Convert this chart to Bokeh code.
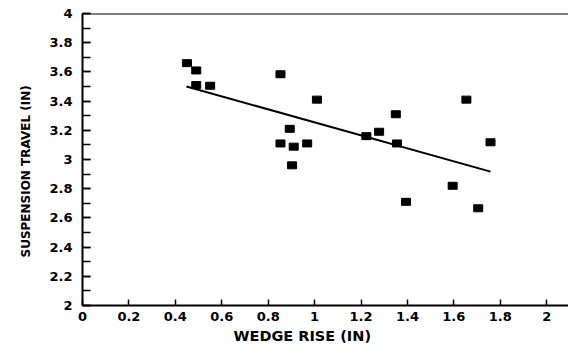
from bokeh.plotting import figure
from bokeh.models import Range1d, SingleIntervalTicker, Span, ColumnDataSource, Title
from bokeh.embed import file_html
from bokeh.resources import INLINE

# Data
wedge_rise = [0.45, 0.49, 0.49, 0.55, 0.853, 1.01, 0.893, 0.853, 0.91, 0.968,
              0.903, 1.223, 1.278, 1.35, 1.355, 1.654, 1.758, 1.595, 1.394, 1.705]
susp_travel = [3.66, 3.61, 3.51, 3.505, 3.584, 3.41, 3.21, 3.11, 3.088, 3.11,
               2.96, 3.16, 3.19, 3.31, 3.11, 3.41, 3.118, 2.82, 2.71, 2.666]
fit_x = [0.448, 1.758]
fit_y = [3.50, 2.917]
x_title = "WEDGE RISE (IN)"
y_title = "SUSPENSION TRAVEL (IN)"

FONT = "DejaVu Sans"

p = figure(width=568, height=349, output_backend="svg", toolbar_location=None,
           x_range=Range1d(0, 2.094), y_range=Range1d(2, 4),
           min_border_left=82, min_border_right=0, min_border_top=13, min_border_bottom=44)
p.outline_line_color = None
p.xgrid.visible = False
p.ygrid.visible = False
p.background_fill_color = "white"
p.border_fill_color = "white"

src = ColumnDataSource(dict(x=wedge_rise, y=susp_travel))
p.rect("x", "y", width=9, height=7, width_units="screen", height_units="screen",
       source=src, fill_color="black", line_color="black")
p.line(fit_x, fit_y, line_color="black", line_width=2)

p.add_layout(Span(location=4, dimension="width", line_color="black", line_width=2))

xa = p.xaxis[0]
xa.ticker = SingleIntervalTicker(interval=0.2, num_minor_ticks=0)
xa.major_tick_in = 6
xa.major_tick_out = 0
xa.minor_tick_in = 0
xa.minor_tick_out = 0
xa.axis_line_width = 2
xa.major_tick_line_width = 1.5
xa.major_label_standoff = 6
xa.major_label_text_font = FONT
xa.major_label_text_font_style = "bold"
xa.major_label_text_font_size = "13px"
xa.major_label_text_color = "black"

ya = p.yaxis[0]
ya.ticker = SingleIntervalTicker(interval=0.2, num_minor_ticks=2)
ya.major_tick_in = 8
ya.major_tick_out = 0
ya.minor_tick_in = 8
ya.minor_tick_out = 0
ya.axis_line_width = 2
ya.major_tick_line_width = 1.5
ya.minor_tick_line_width = 1.5
ya.major_label_standoff = 10
ya.major_label_text_font = FONT
ya.major_label_text_font_style = "bold"
ya.major_label_text_font_size = "13px"
ya.major_label_text_color = "black"

p.add_layout(Title(text=x_title, align="left", offset=151, standoff=4,
                   text_font=FONT, text_font_style="bold", text_font_size="14.5px",
                   text_color="black"), "below")
p.add_layout(Title(text=y_title, align="left", offset=48, standoff=27,
                   text_font=FONT, text_font_style="bold", text_font_size="12px",
                   text_color="black"), "left")

open("out.html", "w").write(file_html(p, INLINE))
